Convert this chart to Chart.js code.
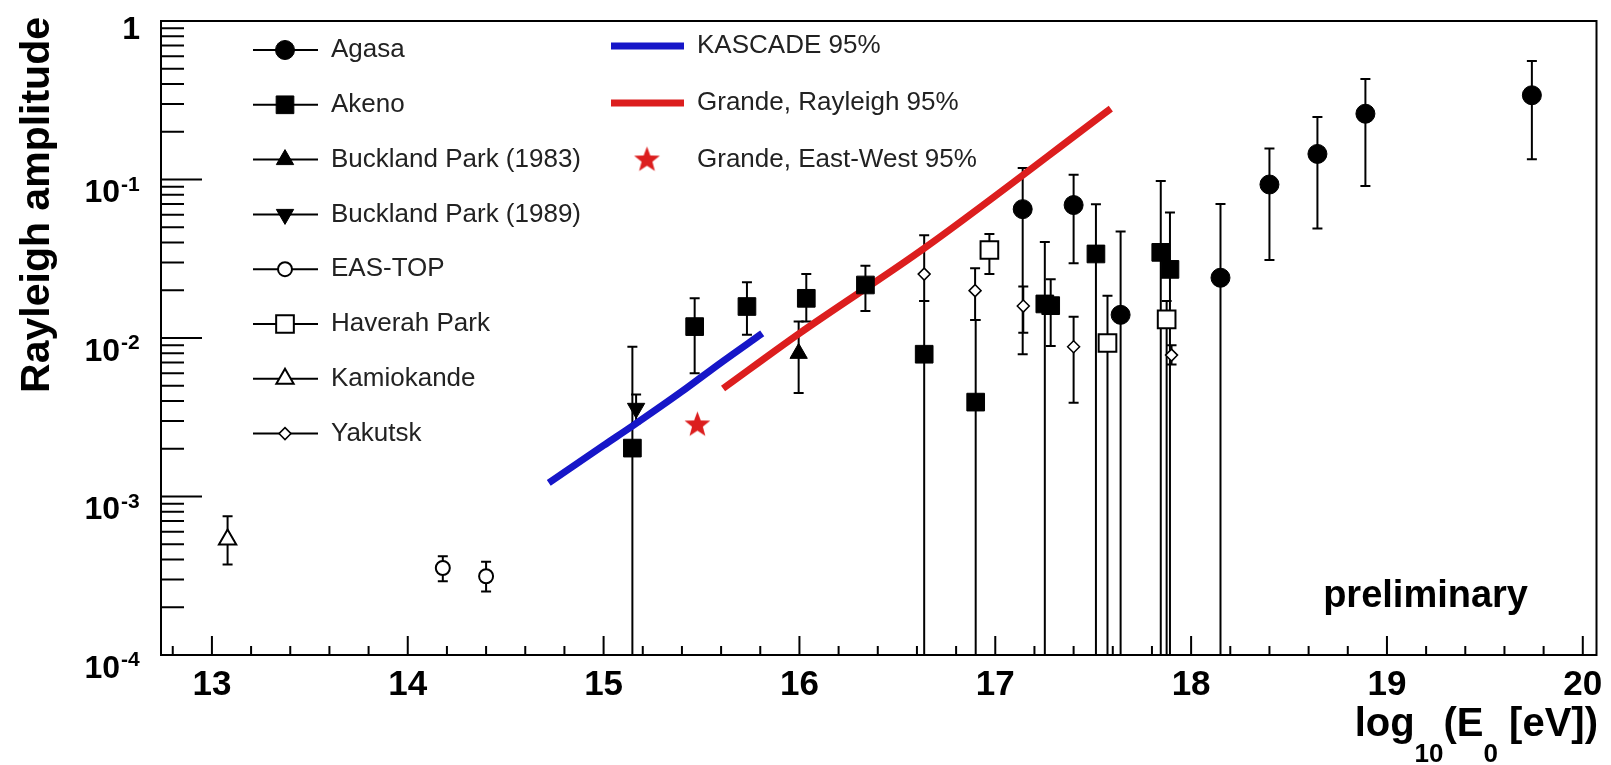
<!DOCTYPE html>
<html lang="en">
<head>
<meta charset="UTF-8">
<title>Rayleigh amplitude vs primary energy</title>
<script src="https://cdn.jsdelivr.net/npm/chart.js"></script>
<style>
  html, body { margin: 0; padding: 0; background: #fff; overflow: hidden; }
  #wrap { width: 1611px; height: 765px; }
</style>
</head>
<body>
<div id="wrap"><canvas id="amp" width="1611" height="765"></canvas></div>
<script>
// values: x = log10(E0 / eV), y = Rayleigh amplitude
// lo = 0 means the error bar runs down to the axis
const agasaX  = [17.14, 17.40, 17.64, 18.15, 18.40, 18.645, 18.89, 19.74];
const agasaY  = [0.065, 0.069, 0.014, 0.024, 0.093, 0.145, 0.26, 0.34];
const agasaLo = [0.0079, 0.0296, 0, 0, 0.031, 0.049, 0.091, 0.134];
const agasaHi = [0.118, 0.107, 0.047, 0.070, 0.157, 0.248, 0.43, 0.56];

const akenoX  = [15.147, 15.465, 15.732, 16.035, 16.337, 16.637, 16.90, 17.253, 17.283, 17.514, 17.845, 17.892];
const akenoY  = [0.00202, 0.0118, 0.0158, 0.0178, 0.0216, 0.0079, 0.00394, 0.0164, 0.016, 0.0339, 0.0347, 0.0271];
const akenoLo = [0, 0.0060, 0.0105, 0.0127, 0.0148, 0, 0, 0, 0.0089, 0, 0, 0];
const akenoHi = [0.0088, 0.0178, 0.0225, 0.0253, 0.0286, 0.0171, 0.013, 0.0403, 0.0235, 0.0697, 0.098, 0.062];

const buck83X = [15.996], buck83Y = [0.0080], buck83Lo = [0.0045], buck83Hi = [0.0127];
const buck89X = [15.166], buck89Y = [0.0036], buck89Lo = [0.0029], buck89Hi = [0.0044];

const easX  = [14.179, 14.40];
const easY  = [0.000354, 0.000314];
const easLo = [0.000292, 0.000252];
const easHi = [0.00042, 0.000387];

const haverahX  = [16.97, 17.573, 17.875];
const haverahY  = [0.0359, 0.0093, 0.0131];
const haverahLo = [0.0253, 0, 0];
const haverahHi = [0.0453, 0.0185, 0.0171];

const kamioX = [13.08], kamioY = [0.000535], kamioLo = [0.000372], kamioHi = [0.00075];

const yakutskX  = [16.637, 16.897, 17.143, 17.40, 17.90];
const yakutskY  = [0.0253, 0.0199, 0.0159, 0.0088, 0.0078];
const yakutskLo = [0.0171, 0.013, 0.0108, 0.0039, 0.0068];
const yakutskHi = [0.0445, 0.0275, 0.0211, 0.0136, 0.0090];

// upper limits
const kascadeX = [14.72, 15.0, 15.15, 15.4, 15.6, 15.81];
const kascadeY = [0.00122, 0.0021, 0.0028, 0.0046, 0.0070, 0.0107];
const grandeX  = [15.61, 16.0, 16.64, 17.59];
const grandeY  = [0.0048, 0.0107, 0.037, 0.28];
const ewX = [15.479], ewY = [0.00283];

const xTickLabels = ['13', '14', '15', '16', '17', '18', '19', '20'];
const yTickExponents = [0, -1, -2, -3, -4];

const FONT = '"Liberation Sans", Arial, Helvetica, sans-serif';
const BLUE = '#1616c8', RED = '#dc1e1e';

function pts(xs, ys) { return xs.map((x, i) => ({ x: x, y: ys[i] })); }

// filled five point star used as point style
function starImage(r, color) {
    const c = document.createElement('canvas');
    c.width = c.height = Math.ceil(2 * r + 2);
    const g = c.getContext('2d');
    const cx = c.width / 2, cy = c.height / 2;
    g.beginPath();
    for (let k = 0; k < 10; k++) {
        const rr = k % 2 ? r * 0.42 : r;
        const ang = -Math.PI / 2 + k * Math.PI / 5;
        g.lineTo(cx + rr * Math.cos(ang), cy + rr * Math.sin(ang));
    }
    g.closePath();
    g.fillStyle = color;
    g.fill();
    return c;
}
const star = starImage(13.5, RED);

function markerSet(label, xs, ys, lo, hi, style, radius, filled, extra) {
    return Object.assign({
        label: label,
        data: pts(xs, ys),
        errLo: lo, errHi: hi,
        pointStyle: style,
        pointRadius: radius,
        pointHoverRadius: radius,
        pointBackgroundColor: filled ? '#000' : '#fff',
        pointBorderColor: '#000',
        pointBorderWidth: filled ? 1 : 2,
        showLine: false,
        order: 1
    }, extra || {});
}

const datasets = [
    markerSet('Agasa', agasaX, agasaY, agasaLo, agasaHi, 'circle', 9.5, true),
    markerSet('Akeno', akenoX, akenoY, akenoLo, akenoHi, 'rect', 12.5, true),
    markerSet('Buckland Park (1983)', buck83X, buck83Y, buck83Lo, buck83Hi, 'triangle', 10, true),
    markerSet('Buckland Park (1989)', buck89X, buck89Y, buck89Lo, buck89Hi, 'triangle', 10, true, { pointRotation: 180 }),
    markerSet('EAS-TOP', easX, easY, easLo, easHi, 'circle', 7, false),
    markerSet('Haverah Park', haverahX, haverahY, haverahLo, haverahHi, 'rect', 12.5, false),
    markerSet('Kamiokande', kamioX, kamioY, kamioLo, kamioHi, 'triangle', 10, false),
    markerSet('Yakutsk', yakutskX, yakutskY, yakutskLo, yakutskHi, 'rectRot', 6, false, { pointBorderWidth: 1.5 }),
    {
        label: 'Grande, East-West 95%', data: pts(ewX, ewY),
        pointStyle: star, pointRadius: 13.5, showLine: false, order: 1
    },
    {
        label: 'KASCADE 95%', data: pts(kascadeX, kascadeY),
        showLine: true, borderColor: BLUE, borderWidth: 7, pointRadius: 0,
        cubicInterpolationMode: 'monotone', order: 10
    },
    {
        label: 'Grande, Rayleigh 95%', data: pts(grandeX, grandeY),
        showLine: true, borderColor: RED, borderWidth: 7, pointRadius: 0,
        cubicInterpolationMode: 'monotone', order: 10
    }
];

// which dataset goes where in the in-frame legend
const legendLeft = [0, 1, 2, 3, 4, 5, 6, 7];
const legendRight = [9, 10, 8];

function drawMarker(ctx, ds, x, y) {
    const r = ds.pointRadius, s = ds.pointStyle;
    if (s instanceof HTMLCanvasElement) {
        ctx.drawImage(s, x - s.width / 2, y - s.height / 2);
        return;
    }
    ctx.save();
    ctx.fillStyle = ds.pointBackgroundColor;
    ctx.strokeStyle = ds.pointBorderColor;
    ctx.lineWidth = ds.pointBorderWidth;
    ctx.beginPath();
    if (s === 'circle') {
        ctx.arc(x, y, r, 0, 2 * Math.PI);
    } else if (s === 'rect') {
        const h = r * Math.SQRT1_2;
        ctx.rect(x - h, y - h, 2 * h, 2 * h);
    } else if (s === 'rectRot') {
        ctx.moveTo(x, y - r); ctx.lineTo(x + r, y); ctx.lineTo(x, y + r); ctx.lineTo(x - r, y);
        ctx.closePath();
    } else if (s === 'triangle') {
        const d = ds.pointRotation ? -1 : 1;
        ctx.moveTo(x, y - d * r);
        ctx.lineTo(x + 0.866 * r, y + d * 0.5 * r);
        ctx.lineTo(x - 0.866 * r, y + d * 0.5 * r);
        ctx.closePath();
    }
    ctx.fill();
    ctx.stroke();
    ctx.restore();
}

// vertical error bars with small caps, drawn under the markers
const errorBars = {
    id: 'errorBars',
    beforeDatasetsDraw(chart) {
        const { ctx, chartArea: a, scales: { y } } = chart;
        ctx.save();
        ctx.beginPath();
        ctx.rect(a.left, a.top, a.right - a.left, a.bottom - a.top);
        ctx.clip();
        ctx.strokeStyle = '#000';
        ctx.lineWidth = 2;
        chart.data.datasets.forEach((ds, di) => {
            if (!ds.errLo) return;
            chart.getDatasetMeta(di).data.forEach((pt, i) => {
                const top = y.getPixelForValue(ds.errHi[i]);
                const bot = ds.errLo[i] > 0 ? y.getPixelForValue(ds.errLo[i]) : a.bottom;
                ctx.beginPath();
                ctx.moveTo(pt.x, top); ctx.lineTo(pt.x, bot);
                ctx.moveTo(pt.x - 5, top); ctx.lineTo(pt.x + 5, top);
                if (ds.errLo[i] > 0) { ctx.moveTo(pt.x - 5, bot); ctx.lineTo(pt.x + 5, bot); }
                ctx.stroke();
            });
        });
        ctx.restore();
    }
};

// ROOT style frame: inward ticks, labels, titles, legend
const rootFrame = {
    id: 'rootFrame',
    afterDraw(chart) {
        const { ctx, chartArea: a, scales: { x, y } } = chart;
        ctx.save();
        ctx.strokeStyle = '#000';
        ctx.fillStyle = '#000';
        ctx.lineWidth = 2;
        ctx.strokeRect(a.left, a.top, a.right - a.left, a.bottom - a.top);

        // x ticks every 0.2, long at integers
        ctx.beginPath();
        for (let k = Math.ceil(x.min * 5); k <= Math.floor(x.max * 5); k++) {
            const px = x.getPixelForValue(k / 5);
            const len = k % 5 === 0 ? 19 : 9;
            ctx.moveTo(px, a.bottom); ctx.lineTo(px, a.bottom - len);
        }
        // y ticks, long at decades
        for (let e = -4; e <= 0; e++) {
            for (let m = 1; m <= 9; m++) {
                const v = m * Math.pow(10, e);
                if (v > 1.0001) break;
                const py = y.getPixelForValue(v);
                const len = m === 1 ? 41 : 23;
                ctx.moveTo(a.left, py); ctx.lineTo(a.left + len, py);
            }
        }
        ctx.stroke();

        // x tick labels
        ctx.font = 'bold 35px ' + FONT;
        ctx.textAlign = 'center';
        ctx.textBaseline = 'alphabetic';
        xTickLabels.forEach(t => ctx.fillText(t, x.getPixelForValue(Number(t)), 695));

        // y tick labels 1, 10^-1 ...
        yTickExponents.forEach(e => {
            const py = y.getPixelForValue(Math.pow(10, e));
            if (e === 0) {
                ctx.font = 'bold 32px ' + FONT;
                ctx.textAlign = 'right';
                ctx.fillText('1', 140, py + 18);
            } else {
                ctx.font = 'bold 32px ' + FONT;
                ctx.textAlign = 'right';
                ctx.fillText('10', 120, py + 22.5);
                ctx.font = 'bold 21px ' + FONT;
                ctx.textAlign = 'left';
                ctx.fillText(String(e), 121, py + 11);
            }
        });

        // y title
        ctx.save();
        ctx.translate(49, 17);
        ctx.rotate(-Math.PI / 2);
        ctx.font = 'bold 41px ' + FONT;
        ctx.textAlign = 'right';
        ctx.fillText('Rayleigh amplitude', 0, 0);
        ctx.restore();

        // x title log_10(E_0 [eV]) right aligned
        const parts = [
            { t: 'log', f: 'bold 40px ', b: 736 },
            { t: '10', f: 'bold 26px ', b: 762 },
            { t: '(E', f: 'bold 40px ', b: 736 },
            { t: '0', f: 'bold 26px ', b: 762 },
            { t: ' [eV])', f: 'bold 40px ', b: 736 }
        ];
        let total = 0;
        parts.forEach(p => { ctx.font = p.f + FONT; p.w = ctx.measureText(p.t).width; total += p.w; });
        let cx = 1598 - total;
        ctx.textAlign = 'left';
        parts.forEach(p => { ctx.font = p.f + FONT; ctx.fillText(p.t, cx, p.b); cx += p.w; });

        // preliminary tag
        ctx.font = 'bold 38px ' + FONT;
        ctx.textAlign = 'right';
        ctx.fillText('preliminary', 1528, 607);

        // legend
        const ds = chart.data.datasets;
        ctx.font = '26px ' + FONT;
        ctx.textAlign = 'left';
        ctx.textBaseline = 'middle';
        legendLeft.forEach((di, i) => {
            const ly = 50 + 54.8 * i;
            ctx.strokeStyle = '#000';
            ctx.lineWidth = 2;
            ctx.beginPath(); ctx.moveTo(253, ly); ctx.lineTo(318, ly); ctx.stroke();
            drawMarker(ctx, ds[di], 285, ly);
            ctx.fillStyle = '#222';
            ctx.fillText(ds[di].label, 331, ly);
        });
        legendRight.forEach((di, i) => {
            const ly = 46 + 57 * i;
            const d = ds[di];
            if (d.showLine) {
                ctx.strokeStyle = d.borderColor;
                ctx.lineWidth = 7;
                ctx.beginPath(); ctx.moveTo(611, ly); ctx.lineTo(684, ly); ctx.stroke();
            } else {
                drawMarker(ctx, d, 647, ly);
            }
            ctx.fillStyle = '#222';
            ctx.fillText(d.label, 697, ly);
        });
        ctx.restore();
    }
};

new Chart(document.getElementById('amp'), {
    type: 'scatter',
    data: { datasets: datasets },
    options: {
        responsive: false,
        devicePixelRatio: 1,
        animation: false,
        layout: { padding: { left: 161, top: 21, right: 14, bottom: 110 } },
        scales: {
            x: { type: 'linear', min: 12.74, max: 20.07, display: false },
            y: { type: 'logarithmic', min: 1e-4, max: 1, display: false }
        },
        plugins: {
            legend: { display: false },
            tooltip: { enabled: false }
        }
    },
    plugins: [errorBars, rootFrame]
});
</script>
</body>
</html>
